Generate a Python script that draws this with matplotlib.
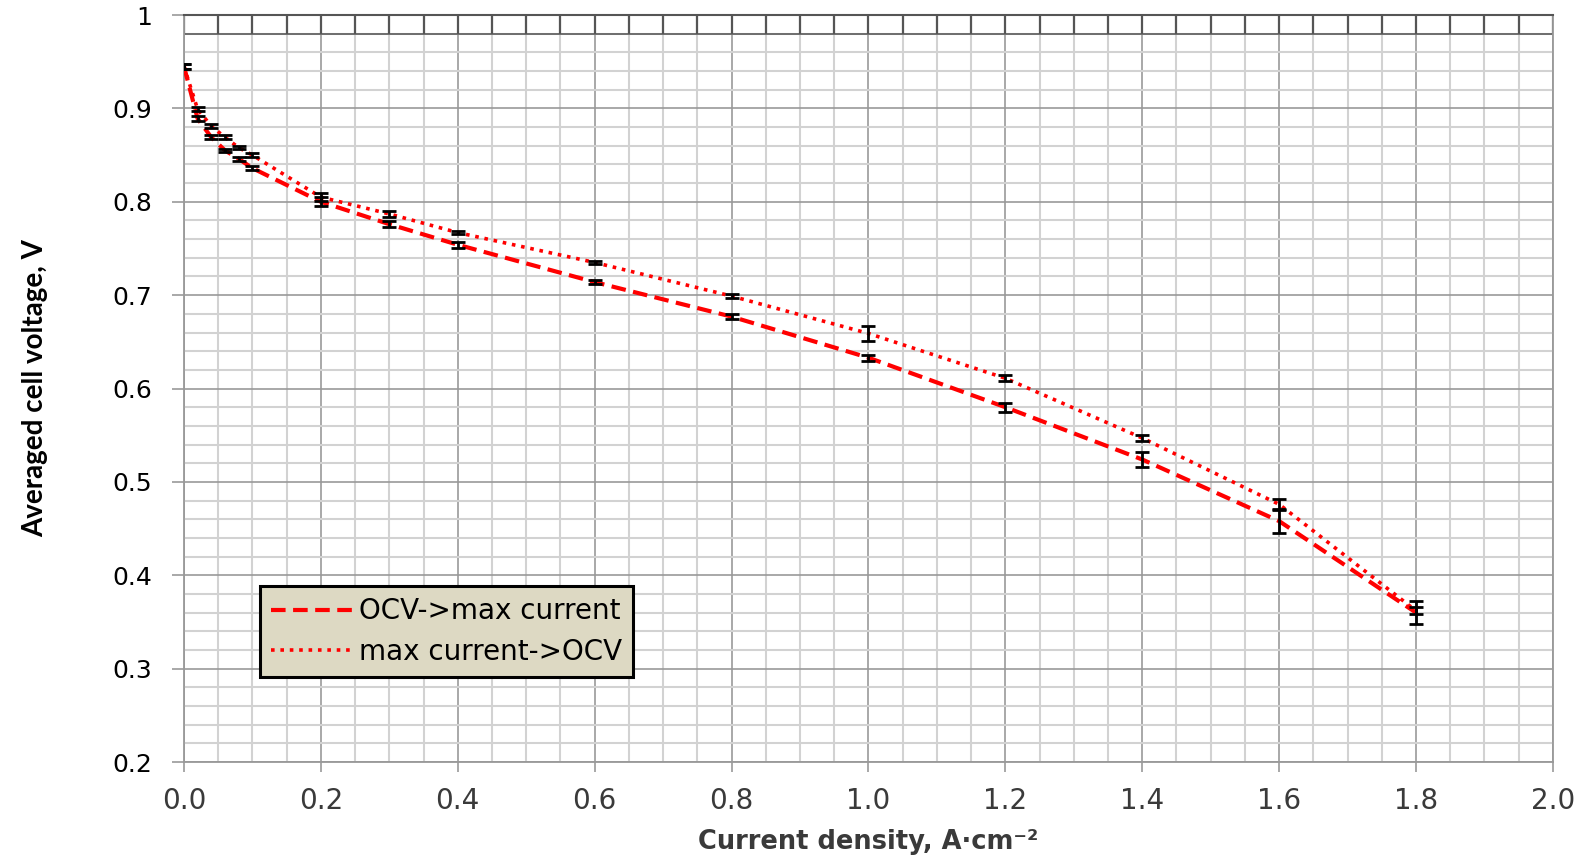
import numpy as np
import matplotlib
matplotlib.use("Agg")
import matplotlib.pyplot as plt
from matplotlib.ticker import MultipleLocator

# current density, A/cm2
current = [0.0, 0.02, 0.04, 0.06, 0.08, 0.1, 0.2, 0.3, 0.4, 0.6, 0.8, 1.0, 1.2, 1.4, 1.6, 1.8]
# OCV -> max current
v_up = [0.945, 0.889, 0.869, 0.855, 0.846, 0.836, 0.800, 0.776, 0.754, 0.714, 0.677, 0.633, 0.580, 0.524, 0.458, 0.360]
err_up = [0.003, 0.003, 0.002, 0.002, 0.002, 0.002, 0.005, 0.003, 0.003, 0.002, 0.003, 0.003, 0.005, 0.008, 0.013, 0.012]
# max current -> OCV
v_down = [0.945, 0.899, 0.881, 0.869, 0.858, 0.850, 0.805, 0.787, 0.767, 0.735, 0.699, 0.659, 0.611, 0.547, 0.476, 0.362]
err_down = [0.003, 0.002, 0.002, 0.002, 0.002, 0.002, 0.004, 0.003, 0.002, 0.002, 0.002, 0.008, 0.003, 0.003, 0.006, 0.004]

fig = plt.figure(figsize=(15.83, 8.59), dpi=100)
ax = fig.add_axes([0.1162, 0.1129, 0.8648, 0.8696])

ax.set_xlim(0, 2.0)
ax.set_ylim(0.2, 1.0)

ax.xaxis.set_major_locator(MultipleLocator(0.2))
ax.xaxis.set_minor_locator(MultipleLocator(0.05))
ax.yaxis.set_major_locator(MultipleLocator(0.1))
ax.yaxis.set_minor_locator(MultipleLocator(0.02))

ax.grid(which='minor', color='#d2d2d2', lw=1.5, zorder=0)
ax.grid(which='major', color='#999999', lw=1.2, zorder=0)
ax.set_axisbelow(True)

# odd band at the top of the excel plot
ax.axhline(0.98, color='#666666', lw=1.3, zorder=1)
ax.vlines(np.arange(0, 2.001, 0.05), 0.98, 1.0, color='#555555', lw=1.6, zorder=1)

ax.plot(current, v_up, color='#ff0000', ls=(0, (3.5, 1.8)), lw=3, zorder=3,
        label='OCV->max current')
ax.plot(current, v_down, color='#ff0000', ls=(0, (1, 1.6)), lw=2.6, zorder=3,
        label='max current->OCV')
ax.errorbar(current, v_up, yerr=err_up, fmt='none', ecolor='black', elinewidth=2,
            capsize=5, capthick=2, zorder=4)
ax.errorbar(current, v_down, yerr=err_down, fmt='none', ecolor='black', elinewidth=2,
            capsize=5, capthick=2, zorder=4)

for s in ['left', 'bottom', 'right']:
    ax.spines[s].set_color('#999999')
    ax.spines[s].set_linewidth(1.3)
ax.spines['top'].set_color('#555555')
ax.spines['top'].set_linewidth(1.5)

ax.tick_params(axis='y', which='major', direction='out', length=9, width=1.2,
               color='#999999', labelsize=18, pad=14)
ax.tick_params(axis='x', which='major', direction='out', length=7, width=1.2,
               color='#999999', labelsize=20, pad=11, labelcolor='#3a3a3a')
ax.tick_params(which='minor', length=0)

ax.set_xticks(np.arange(0, 2.01, 0.2))
ax.set_xticklabels(['%.1f' % t for t in np.arange(0, 2.01, 0.2)])
yt = np.arange(0.2, 1.01, 0.1)
ax.set_yticks(yt)
ax.set_yticklabels(['1' if abs(t - 1) < 1e-9 else '%.1f' % t for t in yt])

ax.set_xlabel('Current density, A·cm⁻²', fontsize=18.5, fontweight='bold',
              color='#3a3a3a', labelpad=10)
ax.set_ylabel('Averaged cell voltage, V', fontsize=20, fontweight='bold',
              family='Lato', labelpad=46)

leg = ax.legend(loc='lower left', bbox_to_anchor=(0.0555, 0.114), fontsize=20,
                frameon=True, fancybox=False, handlelength=2.9, handletextpad=0.25,
                borderpad=0.4, labelspacing=0.45, borderaxespad=0)
leg.get_frame().set_facecolor('#ddd9c3')
leg.get_frame().set_edgecolor('black')
leg.get_frame().set_linewidth(2.2)
leg.get_frame().set_alpha(1)

fig.savefig('out.png', dpi=100)
